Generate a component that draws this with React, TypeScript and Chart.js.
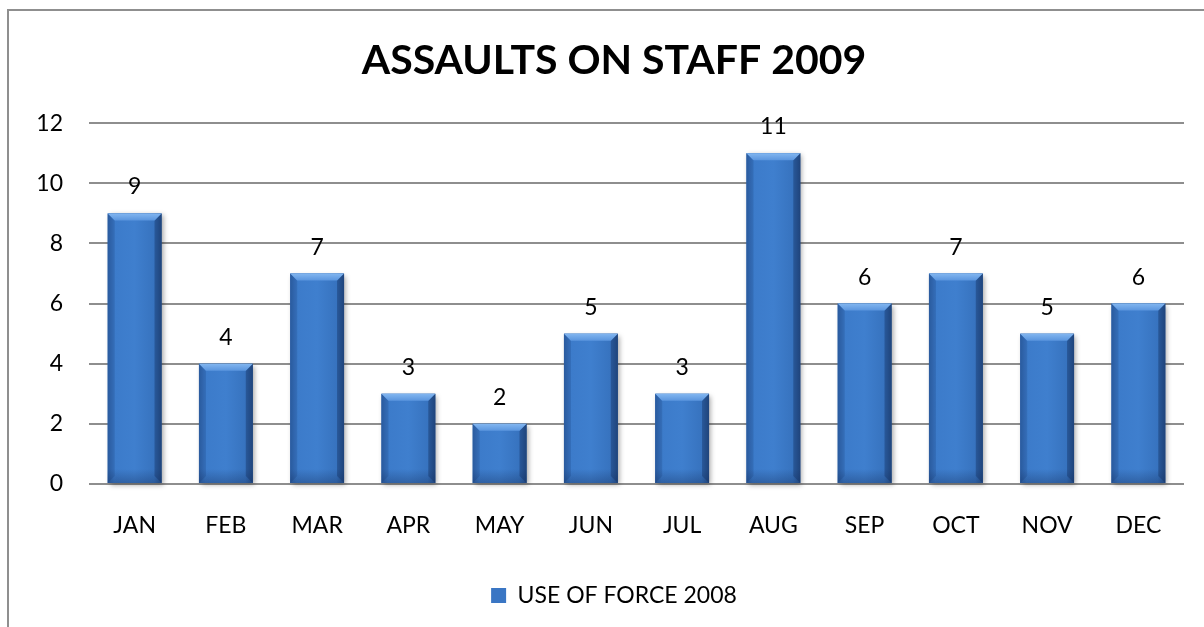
import React, { useEffect, useRef } from "react";
import { Chart, registerables } from "chart.js";

Chart.register(...registerables);

const categories = ["JAN", "FEB", "MAR", "APR", "MAY", "JUN", "JUL", "AUG", "SEP", "OCT", "NOV", "DEC"];
const useOfForce2008 = [9, 4, 7, 3, 2, 5, 3, 11, 6, 7, 5, 6];
const seriesLabel = "USE OF FORCE 2008";
const chartTitle = "ASSAULTS ON STAFF 2009";
const yTicks = [0, 2, 4, 6, 8, 10, 12];

const FONT = "Lato, 'Open Sans', 'DejaVu Sans', sans-serif";

const bevelPlugin = {
  id: "bevelBars",
  afterDatasetDraw(chart: any, args: any) {
    const ctx = chart.ctx as CanvasRenderingContext2D;
    args.meta.data.forEach((bar: any) => {
      const { x, y, base, width } = bar.getProps(["x", "y", "base", "width"], true);
      const left = x - width / 2;
      const right = x + width / 2;
      const top = Math.min(y, base);
      const bottom = Math.max(y, base);
      const h = bottom - top;
      ctx.save();
      ctx.shadowColor = "rgba(0,0,0,0.35)";
      ctx.shadowBlur = 5;
      ctx.shadowOffsetX = 2;
      ctx.shadowOffsetY = 2;
      const g = ctx.createLinearGradient(left, 0, right, 0);
      g.addColorStop(0, "#3065ac");
      g.addColorStop(0.12, "#3c7bca");
      g.addColorStop(0.5, "#3f7fce");
      g.addColorStop(0.86, "#3773bf");
      g.addColorStop(1, "#28538f");
      ctx.fillStyle = g;
      ctx.fillRect(left, top, width, h);
      ctx.shadowColor = "transparent";
      ctx.shadowBlur = 0;
      ctx.shadowOffsetX = 0;
      ctx.shadowOffsetY = 0;
      const b = Math.min(7, h / 2, width / 2);
      const bg = ctx.createLinearGradient(0, bottom - 14, 0, bottom);
      bg.addColorStop(0, "rgba(20,45,90,0)");
      bg.addColorStop(1, "rgba(20,45,90,0.35)");
      ctx.fillStyle = bg;
      ctx.fillRect(left, Math.max(top, bottom - 14), width, Math.min(14, h));
      ctx.fillStyle = "rgba(15,40,85,0.33)";
      ctx.beginPath();
      ctx.moveTo(right, top);
      ctx.lineTo(right, bottom);
      ctx.lineTo(right - b, bottom - b);
      ctx.lineTo(right - b, top + b);
      ctx.closePath();
      ctx.fill();
      ctx.fillStyle = "rgba(15,40,85,0.16)";
      ctx.beginPath();
      ctx.moveTo(left, top);
      ctx.lineTo(left, bottom);
      ctx.lineTo(left + b, bottom - b);
      ctx.lineTo(left + b, top + b);
      ctx.closePath();
      ctx.fill();
      const tg = ctx.createLinearGradient(0, top, 0, top + b);
      tg.addColorStop(0, "#82b6f0");
      tg.addColorStop(1, "#5a95de");
      ctx.fillStyle = tg;
      ctx.beginPath();
      ctx.moveTo(left, top);
      ctx.lineTo(right, top);
      ctx.lineTo(right - b, top + b);
      ctx.lineTo(left + b, top + b);
      ctx.closePath();
      ctx.fill();
      ctx.restore();
    });
  },
};

const valueLabelPlugin = {
  id: "valueLabels",
  afterDatasetsDraw(chart: any) {
    const ctx = chart.ctx as CanvasRenderingContext2D;
    const meta = chart.getDatasetMeta(0);
    const data = chart.data.datasets[0].data;
    ctx.save();
    ctx.font = `23px ${FONT}`;
    ctx.fillStyle = "#000";
    ctx.textAlign = "center";
    ctx.textBaseline = "alphabetic";
    meta.data.forEach((bar: any, i: number) => {
      const { x, y } = bar.getProps(["x", "y"], true);
      ctx.fillText(String(data[i]), x, y - 19);
    });
    ctx.restore();
  },
};

export default function App() {
  const canvasRef = useRef<HTMLCanvasElement | null>(null);

  useEffect(() => {
    if (!canvasRef.current) return;
    const chart = new Chart(canvasRef.current, {
      type: "bar",
      data: {
        labels: categories,
        datasets: [
          {
            label: seriesLabel,
            data: useOfForce2008,
            backgroundColor: "#3a76c4",
            borderWidth: 0,
            barPercentage: 0.59,
            categoryPercentage: 1,
          },
        ],
      },
      options: {
        responsive: true,
        maintainAspectRatio: false,
        animation: false,
        layout: { padding: { left: 44, right: 20, top: 0, bottom: 10 } },
        plugins: {
          title: {
            display: true,
            text: chartTitle,
            color: "#000",
            font: { family: FONT, size: 41, weight: "bold" },
            padding: { top: 36, bottom: 38 },
          },
          legend: {
            display: true,
            position: "bottom",
            labels: {
              color: "#000",
              font: { family: FONT, size: 23 },
              boxWidth: 15,
              boxHeight: 15,
              padding: 10,
            },
          },
          tooltip: { enabled: false },
        },
        scales: {
          x: {
            grid: { display: false, drawTicks: false },
            border: { display: false },
            ticks: { color: "#000", font: { family: FONT, size: 23 }, padding: 28, maxRotation: 0 },
            afterFit: (axis: any) => {
              axis.height = 90;
            },
          },
          y: {
            min: 0,
            max: 12,
            grid: { color: "#8e8e8e", lineWidth: 2, drawTicks: false },
            border: { display: false },
            ticks: { color: "#000", font: { family: FONT, size: 23 }, padding: 26 },
            afterBuildTicks: (axis: any) => {
              axis.ticks = yTicks.map((v) => ({ value: v }));
            },
            afterFit: (axis: any) => {
              axis.width = 45;
              axis._computeLabelArea = () => undefined;
            },
          },
        },
      } as any,
      plugins: [bevelPlugin, valueLabelPlugin],
    });
    return () => chart.destroy();
  }, []);

  return (
    <div style={{ position: "fixed", left: 0, top: 0, width: 1204, height: 627, overflow: "hidden", background: "#fff" }}>
      <div
        style={{
          position: "absolute",
          left: 7,
          top: 9,
          width: 2000,
          height: 2000,
          borderLeft: "2px solid #8f8f8f",
          borderTop: "2px solid #8f8f8f",
        }}
      />
      <div style={{ position: "absolute", left: 0, top: 0, width: 1204, height: 627 }}>
        <canvas ref={canvasRef} />
      </div>
    </div>
  );
}
